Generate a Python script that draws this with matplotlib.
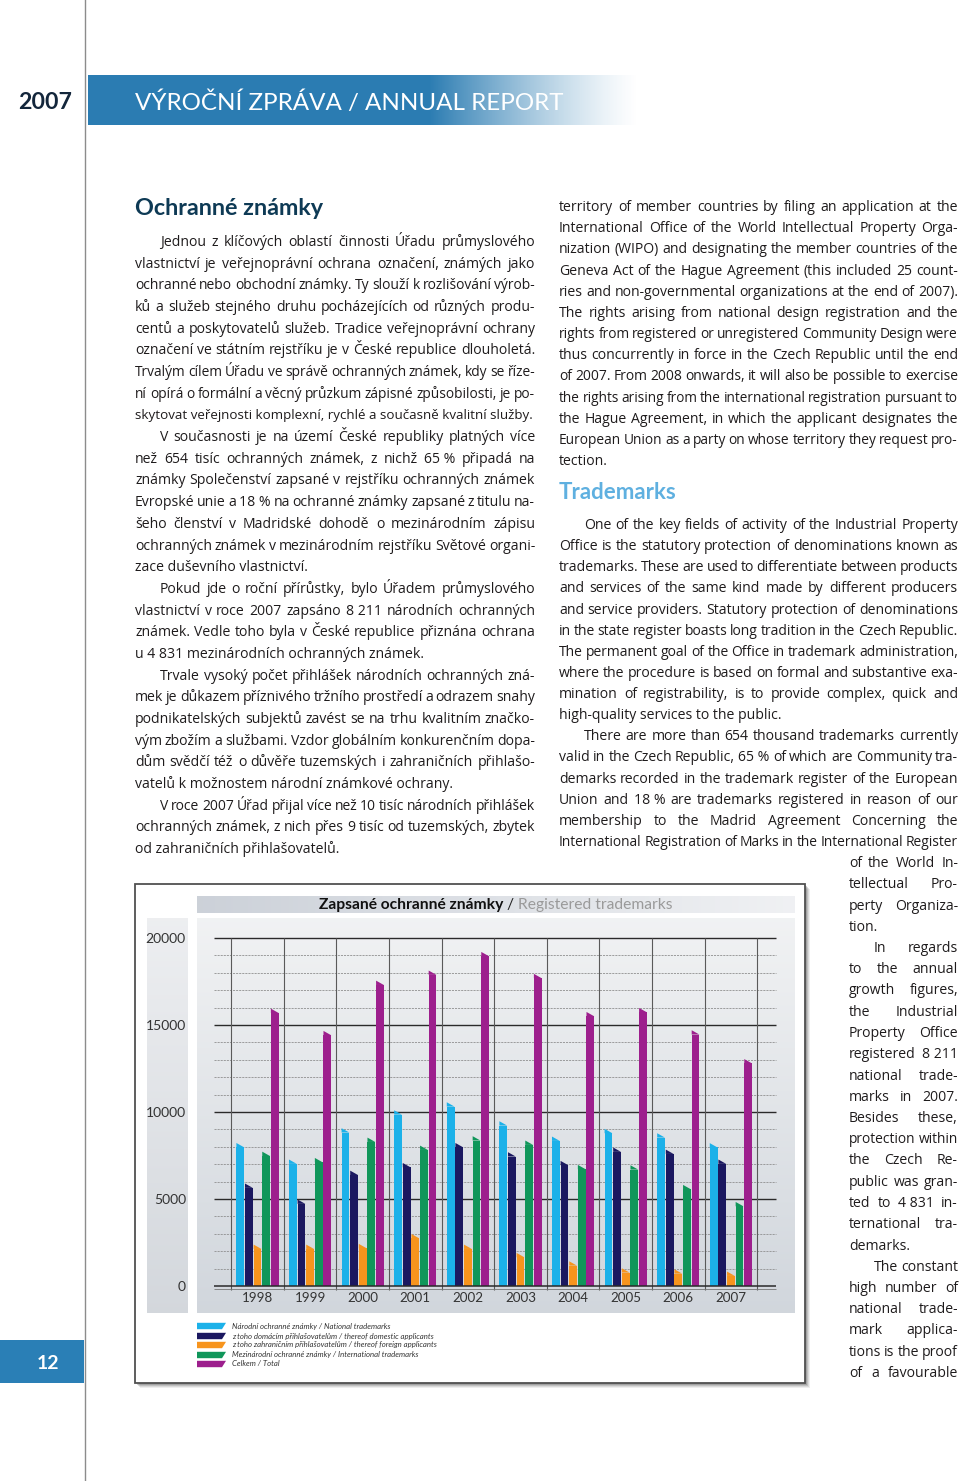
import numpy as np
import matplotlib
matplotlib.use('Agg')
import matplotlib.pyplot as plt
from matplotlib.font_manager import FontProperties
from matplotlib.patches import Rectangle, Polygon

# ---------------- data ----------------
years = ['1998', '1999', '2000', '2001', '2002', '2003', '2004', '2005', '2006', '2007']
national = [8220, 7270, 9070, 10100, 10560, 9470, 8590, 9030, 8780, 8211]
domestic = [5890, 4970, 6630, 7070, 8220, 7690, 7190, 7960, 7840, 7270]
foreign = [2380, 2380, 2420, 2990, 2380, 1900, 1420, 1020, 960, 830]
international = [7720, 7360, 8530, 8070, 8610, 8360, 6960, 6940, 5810, 4831]
total = [15940, 14660, 17550, 18130, 19200, 17940, 15750, 15980, 14700, 13042]

series_labels = [
    'Národní ochranné známky / National trademarks',
    'z toho domácím přihlašovatelům / thereof domestic applicants',
    'z toho zahraničním přihlašovatelům / thereof foreign applicants',
    'Mezinárodní ochranné známky / International trademarks',
    'Celkem / Total',
]
series_colors = ['#1cb1e9', '#1b1860', '#f7941d', '#10965a', '#9d1f8d']
y_ticks = [0, 5000, 10000, 15000, 20000]
y_ticklabels = ['0', '5000', '10000', '15000', '20000']

chart_title_cz = 'Zapsané ochranné známky'
chart_title_en = 'Registered trademarks'

NB = '\u00a0'
left_lines = [
    '>Jednou z klíčových oblastí činnosti Úřadu průmyslového',
    'vlastnictví je veřejnoprávní ochrana označení, známých jako',
    'ochranné nebo obchodní známky. Ty slouží k rozlišování výrob-',
    'ků a služeb stejného druhu pocházejících od různých produ-',
    'centů a poskytovatelů služeb. Tradice veřejnoprávní ochrany',
    'označení ve státním rejstříku je v České republice dlouholetá.',
    'Trvalým cílem Úřadu ve správě ochranných známek, kdy se říze-',
    'ní opírá o formální a věcný průzkum zápisné způsobilosti, je po-',
    'skytovat veřejnosti komplexní, rychlé a současně kvalitní služby.|',
    '>V současnosti je na území České republiky platných více',
    f'než 654 tisíc ochranných známek, z nichž 65{NB}% připadá na',
    'známky Společenství zapsané v rejstříku ochranných známek',
    f'Evropské unie a 18{NB}% na ochranné známky zapsané z titulu na-',
    'šeho členství v Madridské dohodě o mezinárodním zápisu',
    'ochranných známek v mezinárodním rejstříku Světové organi-',
    'zace duševního vlastnictví.|',
    '>Pokud jde o roční přírůstky, bylo Úřadem průmyslového',
    f'vlastnictví v roce 2007 zapsáno 8{NB}211 národních ochranných',
    'známek. Vedle toho byla v České republice přiznána ochrana',
    f'u 4{NB}831 mezinárodních ochranných známek.|',
    '>Trvale vysoký počet přihlášek národních ochranných zná-',
    'mek je důkazem příznivého tržního prostředí a odrazem snahy',
    'podnikatelských subjektů zavést se na trhu kvalitním značko-',
    'vým zbožím a službami. Vzdor globálním konkurenčním dopa-',
    'dům svědčí též o důvěře tuzemských i zahraničních přihlašo-',
    'vatelů k možnostem národní známkové ochrany.|',
    '>V roce 2007 Úřad přijal více než 10 tisíc národních přihlášek',
    'ochranných známek, z nich přes 9 tisíc od tuzemských, zbytek',
    'od zahraničních přihlašovatelů.|',
]

right_top_lines = [
    'territory of member countries by filing an application at the',
    'International Office of the World Intellectual Property Orga-',
    'nization (WIPO) and designating the member countries of the',
    'Geneva Act of the Hague Agreement (this included 25 count-',
    'ries and non-governmental organizations at the end of 2007).',
    'The rights arising from national design registration and the',
    'rights from registered or unregistered Community Design were',
    'thus concurrently in force in the Czech Republic until the end',
    'of 2007. From 2008 onwards, it will also be possible to exercise',
    'the rights arising from the international registration pursuant to',
    'the Hague Agreement, in which the applicant designates the',
    'European Union as a party on whose territory they request pro-',
    'tection.|',
]

right_mid_lines = [
    '>One of the key fields of activity of the Industrial Property',
    'Office is the statutory protection of denominations known as',
    'trademarks. These are used to differentiate between products',
    'and services of the same kind made by different producers',
    'and service providers. Statutory protection of denominations',
    'in the state register boasts long tradition in the Czech Republic.',
    'The permanent goal of the Office in trademark administration,',
    'where the procedure is based on formal and substantive exa-',
    'mination of registrability, is to provide complex, quick and',
    'high-quality services to the public.|',
    '>There are more than 654 thousand trademarks currently',
    f'valid in the Czech Republic, 65{NB}% of which are Community tra-',
    'demarks recorded in the trademark register of the European',
    f'Union and 18{NB}% are trademarks registered in reason of our',
    'membership to the Madrid Agreement Concerning the',
    'International Registration of Marks in the International Register',
]

narrow_lines = [
    'of the World In-',
    'tellectual Pro-',
    'perty Organiza-',
    'tion.|',
    '>In regards',
    'to the annual',
    'growth figures,',
    'the Industrial',
    'Property Office',
    f'registered 8{NB}211',
    'national trade-',
    'marks in 2007.',
    'Besides these,',
    'protection within',
    'the Czech Re-',
    'public was gran-',
    f'ted to 4{NB}831 in-',
    'ternational tra-',
    'demarks.|',
    '>The constant',
    'high number of',
    'national trade-',
    'mark applica-',
    'tions is the proof',
    'of a favourable',
]

# ---------------- figure / page ----------------
W, H = 960, 1481
fig = plt.figure(figsize=(W / 100, H / 100), dpi=100)
page = fig.add_axes([0, 0, 1, 1], zorder=0)
page.set_xlim(0, W)
page.set_ylim(H, 0)
page.axis('off')
renderer = fig.canvas.get_renderer()

BODY = ['Open Sans', 'DejaVu Sans']
HEAD = ['Lato', 'DejaVu Sans']
TXT = '#1e1b1c'


def tw(s, fp):
    w, h, d = renderer.get_text_width_height_descent(s, fp, ismath=False)
    return w


def fitted_fp(text, target_w, weight='normal', style='normal', family=HEAD):
    fp = FontProperties(family=family, size=10, weight=weight, style=style)
    w = tw(text, fp)
    return FontProperties(family=family, size=10 * target_w / w, weight=weight, style=style)


def draw_line(x0, x1, ybase, text, fs, justify):
    fp = FontProperties(family=BODY, size=fs)
    words = text.split(' ')
    avail = x1 - x0
    if not justify or len(words) == 1:
        full = tw(text.replace(NB, ' '), fp)
        if full > avail:
            fp = FontProperties(family=BODY, size=fs * avail / full)
        page.text(x0, ybase, text.replace(NB, ' '), fontproperties=fp, color=TXT,
                  va='baseline', ha='left')
        return
    ws = [tw(w, fp) for w in words]
    sp = tw('a b', fp) - tw('ab', fp)
    nat = sum(ws) + 0.75 * sp * (len(words) - 1)
    if nat > avail:
        fs = fs * avail / nat
        fp = FontProperties(family=BODY, size=fs)
        ws = [tw(w, fp) for w in words]
    gap = (avail - sum(ws)) / (len(words) - 1)
    x = x0
    for w, wd in zip(words, ws):
        page.text(x, ybase, w.replace(NB, ' '), fontproperties=fp, color=TXT,
                  va='baseline', ha='left')
        x += wd + gap


def column(lines, x0, x1, y_start, dy, fs=10.1, indent=25):
    for i, line in enumerate(lines):
        ind = line.startswith('>')
        last = line.endswith('|')
        text = line.strip('>|')
        xs = x0 + (indent if ind else 0)
        draw_line(xs, x1, y_start + dy * i + 5, text, fs, not last)


# vertical margin line
page.plot([85, 85], [0, H], color='#8c8c8c', lw=1.0, zorder=1)

# header band with fading gradient
xs = np.linspace(0, 1, 400)
alpha = np.clip((1 - xs) / (1 - 0.62), 0, 1) ** 1.3
band = np.zeros((2, 400, 4))
band[..., 0] = 0.17
band[..., 1] = 0.49
band[..., 2] = 0.70
band[..., 3] = alpha
page.imshow(band, extent=(88, 640, 125, 75), aspect='auto', zorder=2, interpolation='bilinear')

page.text(18, 109, '2007', fontproperties=fitted_fp('2007', 54, weight='bold'),
          color='#13263b', va='baseline', ha='left', zorder=3)
page.text(135, 110, 'VÝROČNÍ ZPRÁVA / ANNUAL REPORT',
          fontproperties=fitted_fp('VÝROČNÍ ZPRÁVA / ANNUAL REPORT', 425, weight='normal'),
          color='white', va='baseline', ha='left', zorder=3)

# page number
page.add_patch(Rectangle((0, 1340), 84, 43, facecolor='#2a7fb6', edgecolor='none', zorder=2))
page.text(48, 1369, '12', fontproperties=FontProperties(family=HEAD, size=14, weight='bold'),
          color='white', ha='center', va='baseline', zorder=3)

# headings
page.text(135, 215, 'Ochranné známky',
          fontproperties=fitted_fp('Ochranné známky', 189, weight='bold'),
          color='#0e3a55', va='baseline', ha='left')
page.text(559, 499, 'Trademarks',
          fontproperties=fitted_fp('Trademarks', 118, weight='bold'),
          color='#5fb0e0', va='baseline', ha='left')

# body text
column(left_lines, 135, 535, 241, 21.68)
column(right_top_lines, 559, 958, 206, 21.17)
column(right_mid_lines, 559, 958, 524, 21.13)
column(narrow_lines, 849, 958, 862, 21.25)

# ---------------- chart frame ----------------
bx0, by0, bx1, by1 = 135, 884, 805, 1383
for k, a in enumerate([0.10, 0.14, 0.20, 0.28]):
    off = 5 - k
    page.add_patch(Rectangle((bx0 + off, by0 + off), bx1 - bx0, by1 - by0,
                             facecolor='#5a5a5a', alpha=a, edgecolor='none', zorder=3))
page.add_patch(Rectangle((bx0, by0), bx1 - bx0, by1 - by0, facecolor='white',
                         edgecolor='#505050', lw=1.3, zorder=4))

# title band
tb = np.linspace(0, 1, 300)
c0 = np.array([0.80, 0.82, 0.85])
c1 = np.array([0.94, 0.945, 0.955])
tgrad = (c0[None, :] * (1 - tb[:, None]) + c1[None, :] * tb[:, None])[None, :, :]
page.imshow(tgrad, extent=(197, 795, 913, 896), aspect='auto', zorder=5)

fp_t1 = FontProperties(family=HEAD, size=10, weight='bold')
fp_t2 = FontProperties(family=HEAD, size=10, weight='normal')
parts = [(chart_title_cz, fp_t1, '#111111'), (' / ', fp_t2, '#222222'),
         (chart_title_en, fp_t2, '#9a9a9a')]
tot_w = sum(tw(p, f) for p, f, c in parts)
scale = 355.0 / tot_w
fp_t1 = FontProperties(family=HEAD, size=10 * scale, weight='bold')
fp_t2 = FontProperties(family=HEAD, size=10 * scale, weight='normal')
parts = [(chart_title_cz, fp_t1, '#111111'), (' / ', fp_t2, '#222222'),
         (chart_title_en, fp_t2, '#9a9a9a')]
x = 319
for p, f, c in parts:
    page.text(x, 909, p, fontproperties=f, color=c, va='baseline', ha='left', zorder=6)
    x += tw(p, f)

# y-label column
vg = np.linspace(0, 1, 200)
g0 = np.array([0.93, 0.935, 0.945])
g1 = np.array([0.83, 0.845, 0.865])
vgrad = (g0[None, :] * (1 - vg[:, None]) + g1[None, :] * vg[:, None])[:, None, :]
page.imshow(vgrad, extent=(147, 188, 1313, 918), aspect='auto', zorder=5)

# legend
leg_rows = [1326, 1336, 1345, 1355, 1364]
fp_leg = fitted_fp(series_labels[2], 205, style='italic')
for lab, col, yy in zip(series_labels, series_colors, leg_rows):
    page.add_patch(Polygon([(197, yy - 3.2), (226, yy - 3.2), (222, yy + 3.2), (197, yy + 3.2)],
                           closed=True, facecolor=col, edgecolor='none', zorder=6))
    page.text(232, yy + 2.5, lab, fontproperties=fp_leg, color='#333333',
              va='baseline', ha='left', zorder=6)

page.set_xlim(0, W)
page.set_ylim(H, 0)

# ---------------- chart axes ----------------
L, R, T, B = 197, 795, 918, 1313
ax = fig.add_axes([L / W, 1 - B / H, (R - L) / W, (B - T) / H], zorder=2)
ax.patch.set_alpha(0)
ppu = 348.0 / 20000
y0px = 1286
ylo = -(B - y0px) / ppu
yhi = 20000 + ((y0px - 348) - T) / ppu
xc0, dxp = 257.5, 52.6
xlo = (L - xc0) / dxp
xhi = (R - xc0) / dxp

ag = np.linspace(0, 1, 300)
a0 = np.array([0.945, 0.95, 0.955])
a1 = np.array([0.82, 0.84, 0.865])
agrad = (a0[None, :] * (1 - ag[:, None]) + a1[None, :] * ag[:, None])[:, None, :]
ax.imshow(agrad, extent=(xlo, xhi, ylo, yhi), aspect='auto', zorder=0)

idx = np.arange(len(years))
hx0, hx1 = -0.83, 9.86
minor = [v for v in range(1000, 20001, 1000) if v % 5000 != 0]
ax.hlines(minor, hx0, hx1, colors='#8f8f8f', lw=0.6, linestyles=(0, (2.5, 1.2)), zorder=1)
ax.hlines([v for v in y_ticks if v > 0], hx0, hx1, colors='#2a2a2a', lw=1.0, zorder=1)
ax.vlines(np.arange(len(years) + 1) - 0.5, -220, 20000, colors='#5a5a5a', lw=0.8, zorder=1)

bw = 0.147
pitch = 0.164
drop = 250
all_series = [national, domestic, foreign, international, total]
for k, (vals, col) in enumerate(zip(all_series, series_colors)):
    xk = idx + (k - 2) * pitch
    v = np.array(vals, dtype=float)
    ax.bar(xk, v - drop, width=bw, color=col, zorder=3, linewidth=0)
    for xi, vi in zip(xk, v):
        ax.add_patch(Polygon([(xi - bw / 2, vi - drop), (xi - bw / 2, vi), (xi + bw / 2, vi - drop)],
                             closed=True, facecolor=col, edgecolor='none', zorder=3))

ax.hlines([0], hx0, hx1, colors='#2a2a2a', lw=1.1, zorder=4)
ax.hlines([-160], hx0, hx1, colors='#777777', lw=0.6, zorder=4)

fp_year = FontProperties(family=HEAD, size=9.6)
for i, yr in enumerate(years):
    ax.text(i, -700, yr, ha='center', va='center', fontproperties=fp_year, color='#333333')

ax.set_xlim(xlo, xhi)
ax.set_ylim(ylo, yhi)
ax.set_xticks([])
ax.set_yticks(y_ticks, y_ticklabels)
ax.tick_params(axis='y', length=0, pad=8, labelsize=10, labelcolor='#333333')
for lab in ax.get_yticklabels():
    lab.set_fontfamily(HEAD)
for s in ax.spines.values():
    s.set_visible(False)

fig.savefig('out.png', dpi=100)
